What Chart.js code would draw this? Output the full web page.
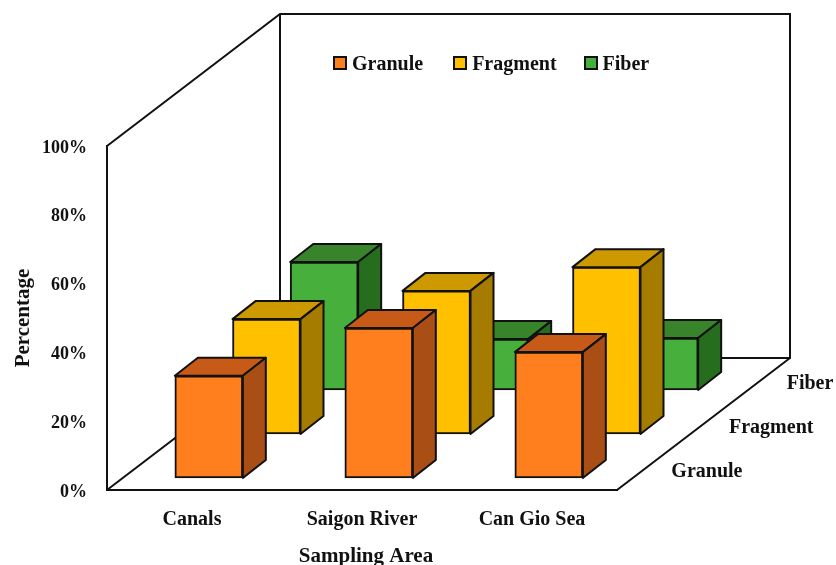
<!DOCTYPE html>
<html>
<head>
<meta charset="utf-8">
<title>Sampling Area</title>
<script src="https://cdn.jsdelivr.net/npm/chart.js@4/dist/chart.umd.min.js"></script>
<style>
    html, body { margin: 0; padding: 0; background: #FFFFFF; overflow: hidden; }
    #wrap { position: relative; width: 836px; height: 565px; }
    #legend {
        position: absolute;
        left: 333px;
        top: 51px;
        display: flex;
        align-items: center;
        height: 24px;
        font: bold 20px "Liberation Serif", serif;
        color: #111111;
    }
    #legend .item { display: flex; align-items: center; }
    #legend .box {
        width: 10px;
        height: 10px;
        border: 2.5px solid #111111;
        margin-right: 5px;
    }
</style>
</head>
<body>
<div id="wrap">
    <canvas id="chart" width="836" height="565"></canvas>
    <div id="legend"></div>
</div>
<script>
const areas = ['Canals', 'Saigon River', 'Can Gio Sea'];
const granule = [29.7, 43.6, 36.6];
const fragment = [33.4, 41.6, 48.5];
const fiber = [37.2, 14.8, 15.1];
const seriesNames = ['Granule', 'Fragment', 'Fiber'];

const frontColors = ['#FF7F1F', '#FFC000', '#47B03C'];
const topColors = ['#C85A17', '#CC9900', '#38842A'];
const sideColors = ['#A94E14', '#A67C00', '#266E1E'];

const INK = '#111111';
const FONT = '"Liberation Serif", serif';

// floor depth and the depth of one bar, in pixels
const FLOOR_DX = 173;
const FLOOR_DY = 132;
const BAR_DX = 23;
const BAR_DY = 18;

// shift of a series into the floor, slot 0 is the front row
function rowShift(slot) {
    return {
        x: (FLOOR_DX / 3) * slot + (FLOOR_DX / 3 - BAR_DX) / 2 - 0.5,
        y: (FLOOR_DY / 3) * slot + (FLOOR_DY / 3 - BAR_DY) / 2 - 1
    };
}

function polygon(ctx, pts, fill) {
    ctx.beginPath();
    pts.forEach((p, i) => (i ? ctx.lineTo(p[0], p[1]) : ctx.moveTo(p[0], p[1])));
    ctx.closePath();
    ctx.fillStyle = fill;
    ctx.fill();
    ctx.stroke();
}

// back wall, left wall and floor outline
const wallsPlugin = {
    id: 'walls',
    beforeDraw(chart) {
        // the axis title sits a little right of the floor centre
        const xScale = chart.scales.x;
        if (xScale.drawTitle === Object.getPrototypeOf(xScale).drawTitle) {
            const drawTitle = xScale.drawTitle;
            xScale.drawTitle = function () {
                this.ctx.save();
                this.ctx.translate(4, 0);
                drawTitle.call(this);
                this.ctx.restore();
            };
        }
    },
    beforeDatasetsDraw(chart) {
        const { ctx, chartArea: a } = chart;
        const backLeft = a.left + FLOOR_DX;
        const backRight = a.right + FLOOR_DX;
        const backBottom = a.bottom - FLOOR_DY;
        const backTop = a.top - FLOOR_DY;
        ctx.save();
        ctx.strokeStyle = INK;
        ctx.lineWidth = 2;
        ctx.beginPath();
        ctx.moveTo(a.left, a.top);
        ctx.lineTo(backLeft, backTop);
        ctx.lineTo(backRight, backTop);
        ctx.lineTo(backRight, backBottom);
        ctx.lineTo(backLeft, backBottom);
        ctx.lineTo(a.left, a.bottom);
        ctx.moveTo(backLeft, backTop);
        ctx.lineTo(backLeft, backBottom);
        ctx.moveTo(a.right, a.bottom);
        ctx.lineTo(backRight, backBottom);
        ctx.stroke();
        ctx.restore();
    },
    afterDatasetsDraw(chart) {
        // depth axis labels along the right floor edge
        const { ctx, chartArea: a } = chart;
        ctx.save();
        ctx.font = 'bold 20px ' + FONT;
        ctx.fillStyle = INK;
        ctx.textAlign = 'left';
        ctx.textBaseline = 'middle';
        seriesNames.forEach((name, slot) => {
            const x = a.right + (FLOOR_DX / 3) * (slot + 0.5) + 25.5;
            const y = a.bottom - (FLOOR_DY / 3) * (slot + 0.5) + 4;
            ctx.fillText(name, x, y);
        });
        ctx.restore();
    }
};

// moves every series back to its row and adds the top and side faces
const boxPlugin = {
    id: 'boxes',
    beforeDatasetDraw(chart, args) {
        const shift = rowShift(args.index);
        chart.ctx.save();
        chart.ctx.translate(shift.x, -shift.y);
    },
    afterDatasetDraw(chart, args) {
        const ctx = chart.ctx;
        ctx.strokeStyle = INK;
        ctx.lineWidth = 2;
        ctx.lineJoin = 'round';
        args.meta.data.forEach(bar => {
            const l = bar.x - bar.width / 2;
            const r = bar.x + bar.width / 2;
            polygon(ctx, [[l, bar.y], [l + BAR_DX, bar.y - BAR_DY], [r + BAR_DX, bar.y - BAR_DY], [r, bar.y]], topColors[args.index]);
            polygon(ctx, [[r, bar.y], [r + BAR_DX, bar.y - BAR_DY], [r + BAR_DX, bar.base - BAR_DY], [r, bar.base]], sideColors[args.index]);
        });
        ctx.restore();
    }
};

const seriesValues = [granule, fragment, fiber];

const chart = new Chart(document.getElementById('chart'), {
    type: 'bar',
    data: {
        labels: areas,
        datasets: seriesNames.map((name, i) => ({
            label: name,
            data: seriesValues[i],
            backgroundColor: frontColors[i],
            borderColor: INK,
            borderWidth: 2,
            borderSkipped: false,
            barThickness: 68,
            grouped: false,
            clip: false
        }))
    },
    options: {
        responsive: false,
        animation: false,
        layout: { padding: { top: 146, right: 219 } },
        plugins: {
            legend: { display: false },
            tooltip: { enabled: false }
        },
        scales: {
            x: {
                afterFit: scale => { scale.height = 75; },
                grid: { display: false, drawTicks: false },
                border: { color: INK, width: 2 },
                ticks: { color: INK, padding: 18, font: { family: FONT, size: 20, weight: 'bold' } },
                title: {
                    display: true,
                    text: 'Sampling Area',
                    color: INK,
                    padding: { top: 0, bottom: -2 },
                    font: { family: FONT, size: 21, weight: 'bold', lineHeight: 1 }
                }
            },
            y: {
                min: 0,
                max: 100,
                afterFit: scale => { scale.width = 107; },
                grid: { display: false, drawTicks: false },
                border: { color: INK, width: 2 },
                ticks: {
                    stepSize: 20,
                    color: INK,
                    padding: 20,
                    labelOffset: 2,
                    font: { family: FONT, size: 18, weight: 'bold' },
                    callback: v => v + '%'
                },
                title: {
                    display: true,
                    text: 'Percentage',
                    color: INK,
                    padding: { top: 11, bottom: 0 },
                    font: { family: FONT, size: 21, weight: 'bold', lineHeight: 1.2 }
                }
            }
        }
    },
    plugins: [wallsPlugin, boxPlugin]
});

// legend sits inside the back wall, built from the chart's own labels
const legendBox = document.getElementById('legend');
const itemGaps = [30, 27, 0];
chart.options.plugins.legend.labels.generateLabels(chart).forEach((item, i) => {
    const row = document.createElement('div');
    row.className = 'item';
    row.style.marginRight = itemGaps[i] + 'px';
    const box = document.createElement('span');
    box.className = 'box';
    box.style.background = item.fillStyle;
    const text = document.createElement('span');
    text.textContent = item.text;
    row.append(box, text);
    legendBox.append(row);
});
</script>
</body>
</html>
